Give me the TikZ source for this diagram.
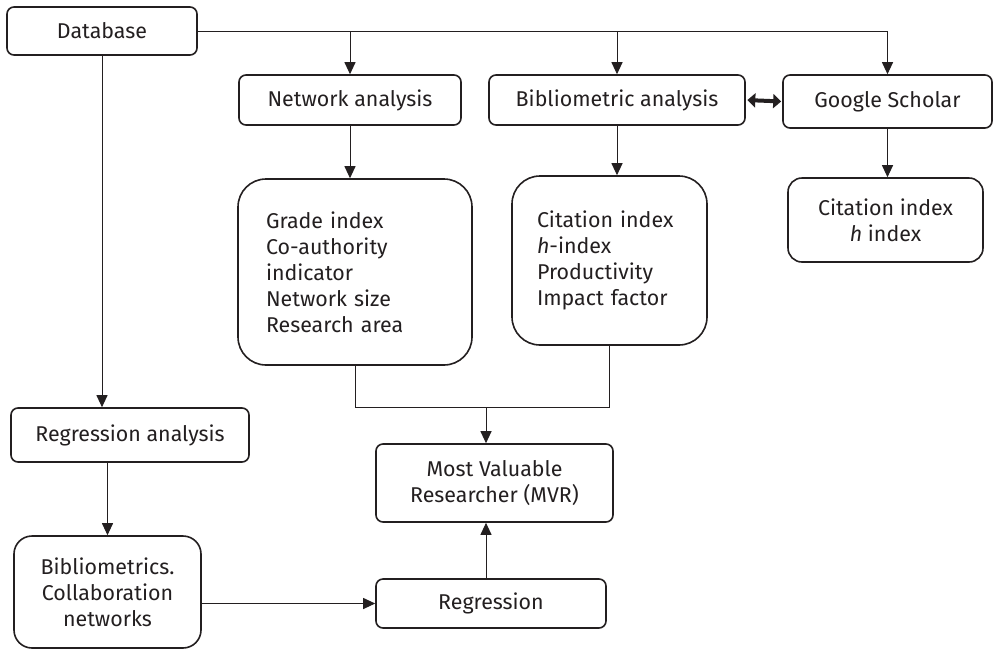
\documentclass[tikz,border=0pt]{standalone}
\usepackage{fontspec}
\setmainfont{Fira Sans}
\usepackage{xcolor}
\usepackage{tikz}
\usetikzlibrary{arrows.meta}
\usetikzlibrary{positioning}

\definecolor{ink}{HTML}{231F20}

\begin{document}
\begin{tikzpicture}[x=1pt, y=-1pt, line width=1pt, draw=ink, text=ink]
        \tikzstyle{every node}=[font=\fontsize{21.4}{26}\selectfont]
        \tikzstyle{box}=[draw, line width=1.6pt, rounded corners=7pt, align=center, inner sep=0pt]
        \tikzstyle{bigbox}=[box, rounded corners=28pt]
        \tikzstyle{arr}=[-{Triangle[length=12pt,width=11pt]}]
        \tikzstyle{dbl}=[{Triangle[length=8pt,width=14pt]}-{Triangle[length=8pt,width=14pt]}, line width=4pt]
        \useasboundingbox (0,0) rectangle (993,649);

        % top row
        \node[box, minimum width=190pt, minimum height=48pt] (db) at (102,31) {Database};
        \node[box, minimum width=222pt, minimum height=50pt] (net) at (350,100) {Network analysis};
        \node[box, minimum width=256pt, minimum height=50pt] (bib) at (617,100) {Bibliometric analysis};
        \node[box, minimum width=209pt, minimum height=53pt] (gs) at (887.5,101.5) {Google Scholar};

        % indicators
        \node[bigbox, minimum height=186pt, text width=178pt, inner xsep=28pt, align=left] (grade) at (355,272)
          {Grade index\\Co-authority\\indicator\\Network size\\Research area};
        \node[bigbox, minimum height=169pt, text width=145pt, inner xsep=25pt, align=left] (cit) at (609.5,260.5)
          {Citation index\\\textit{h}-index\\Productivity\\Impact factor};
        \node[box, rounded corners=14pt, minimum width=195pt, minimum height=84pt] (gcit) at (885.5,220)
          {Citation index\\\textit{h} index};

        % lower part
        \node[box, minimum width=238pt, minimum height=54pt] (regan) at (130,435) {Regression analysis};
        \node[box, rounded corners=18pt, minimum width=187pt, minimum height=112pt] (bibm) at (107.5,592)
          {Bibliometrics.\\Collaboration\\networks};
        \node[box, minimum width=237pt, minimum height=78pt] (mvr) at (494.5,483) {Most Valuable\\Researcher (MVR)};
        \node[box, minimum width=230pt, minimum height=49pt] (reg) at (491,603.5) {Regression};
        \coordinate (jn) at (486,407);

        \draw[arr] (db.east) -| (gs.north);
        \draw[arr] (net.north |- db.east) -- (net.north);
        \draw[arr] (bib.north |- db.east) -- (bib.north);
        \draw[arr] (db.south) -- (db.south |- regan.north);
        \draw[arr] (net.south) -- (net.south |- grade.north);
        \draw[arr] (bib.south) -- (bib.south |- cit.north);
        \draw[arr] (gs.south) -- (gs.south |- gcit.north);
        \draw[dbl, shorten <=1.5pt, shorten >=1pt] (bib.east) -- (gs.west);
        \draw (grade.south) |- (jn) -| (cit.south);
        \draw[arr] (jn) -- (jn |- mvr.north);
        \draw[arr] (bibm.north |- regan.south) -- (bibm.north);
        \draw[arr] (bibm.east |- reg.west) -- (reg.west);
        \draw[arr] (jn |- reg.north) -- (jn |- mvr.south);
      \end{tikzpicture}
\end{document}
